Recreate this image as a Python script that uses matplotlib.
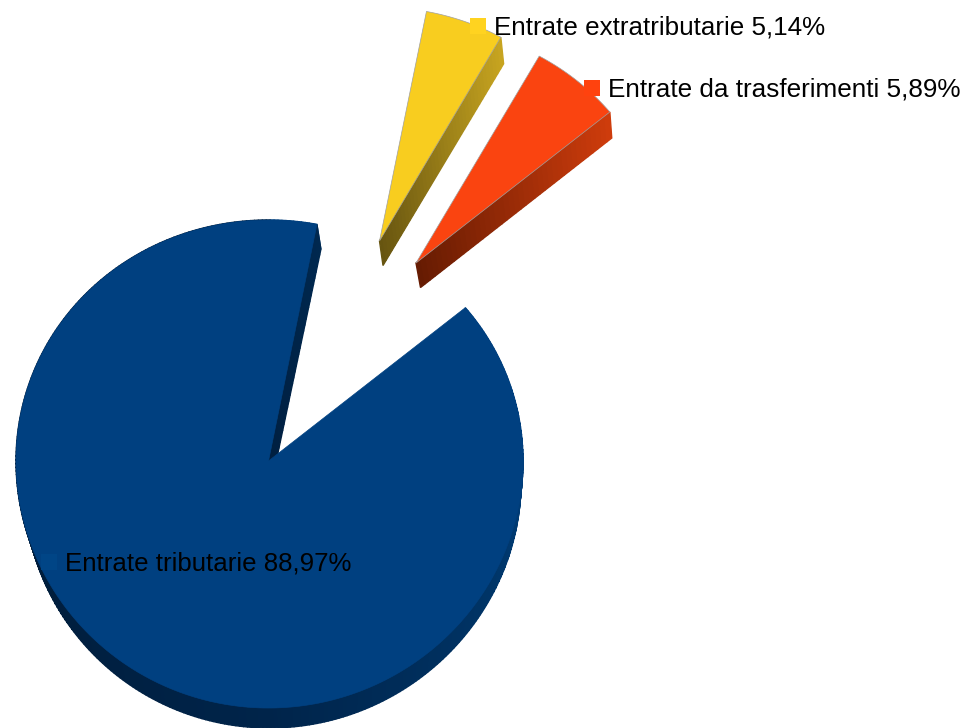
import numpy as np
import matplotlib
matplotlib.use("Agg")
import matplotlib.pyplot as plt
from matplotlib.colors import to_rgb

labels = ["Entrate tributarie 88,97%", "Entrate da trasferimenti 5,89%", "Entrate extratributarie 5,14%"]
shares = [88.97, 5.89, 5.14]
top_colors = ["#004080", "#fa4410", "#f8cd1f"]
key_colors = ["#004586", "#ff420e", "#ffd320"]

START = 79.0
RX, RY, BULGE, BULGE_X = 253.5, 244.0, 3.0, 1.0
apexes = [(268.5, 461), (416, 263), (379.5, 241)]
scales = [1.0, 0.985, 0.97]
# side face colours, dark end then light end
face_colors = [("#001f40", "#00284f"), ("#651b02", "#cf3c0c"), ("#665410", "#c8a520")]
extra_depth = [(0, 0), (1.5, 2), (0.5, 2)]
key_pos = [(41, 554), (584, 80), (470, 18)]
text_pos = [(65, 563), (608, 89), (494, 27)]
text_sizes = [18.65, 18.8, 18.7]
edge_widths = [0, 0.5, 0.5]


def top_xy(apex, scale, theta):
    t = np.radians(theta)
    s, c = np.sin(t), np.cos(t)
    return apex[0] + scale * (RX * c + BULGE_X * c * c), apex[1] - scale * (RY * s - BULGE * s * s)


def drop(x, y, apex, more=(0, 0)):
    # depth of the pie, a bit of perspective in it
    u = (x - apex[0]) / RX
    v = (apex[1] - y) / RY
    return x + 3 - 5 * u + 2 * v + more[0], y + 22.5 + 2.5 * v + more[1]


def strip(ax, p0, p1, q0, q1, color):
    ax.fill([p0[0], p1[0], q1[0], q0[0]], [p0[1], p1[1], q1[1], q0[1]],
            facecolor=color, edgecolor=color, lw=1.0, zorder=2)


def mix(c0, c1, f):
    return tuple((1 - f) * np.array(to_rgb(c0)) + f * np.array(to_rgb(c1)))


def radial_face(ax, apex, scale, theta, dark, light, more, n=40):
    xo, yo = top_xy(apex, scale, theta)
    for i in range(n):
        f0, f1 = i / n, (i + 1) / n
        p0 = (apex[0] + f0 * (xo - apex[0]), apex[1] + f0 * (yo - apex[1]))
        p1 = (apex[0] + f1 * (xo - apex[0]), apex[1] + f1 * (yo - apex[1]))
        strip(ax, p0, p1, drop(*p0, apex, more), drop(*p1, apex, more), mix(dark, light, (f0 + f1) / 2))


def rim_color(theta):
    # darkest lower left, almost the top colour at the right
    a = theta % 360
    if a < 90:
        a += 360
    stops = [200, 270, 330, 365]
    cols = np.array([to_rgb(c) for c in ["#001d3b", "#00244a", "#003466", "#003f7c"]])
    return tuple(np.interp(a, stops, cols[:, k]) for k in range(3))


fig = plt.figure(figsize=(9.67, 7.28), dpi=100)
ax = fig.add_axes([0, 0, 1, 1])
ax.set_xlim(0, 967)
ax.set_ylim(728, 0)
ax.axis("off")

angles = START + np.cumsum([0] + [p * 3.6 for p in shares])
for i, lab in enumerate(labels):
    t0, t1 = angles[i], angles[i + 1]
    apex, sc = apexes[i], scales[i]
    if i == 0:
        ths = np.linspace(t0, t1, 361)
        for a, b in zip(ths[:-1], ths[1:]):
            p0, p1 = top_xy(apex, sc, a), top_xy(apex, sc, b)
            strip(ax, p0, p1, drop(*p0, apex), drop(*p1, apex), rim_color((a + b) / 2))
    radial_face(ax, apex, sc, t0 % 360, *face_colors[i], extra_depth[i])
    ths = np.linspace(t0, t1, 300)
    xs, ys = top_xy(apex, sc, ths)
    ax.fill(np.r_[apex[0], xs], np.r_[apex[1], ys], facecolor=top_colors[i],
            edgecolor="#a0a0a0" if edge_widths[i] else top_colors[i], lw=edge_widths[i] or 0.5, zorder=3)

for i, lab in enumerate(labels):
    kx, ky = key_pos[i]
    ax.fill([kx, kx + 16, kx + 16, kx], [ky, ky, ky + 16, ky + 16], color=key_colors[i], lw=0, zorder=4)
    ax.text(text_pos[i][0], text_pos[i][1], lab, family="Liberation Sans", fontsize=text_sizes[i],
            color="black", va="center", ha="left", zorder=5)

fig.savefig("out.png", dpi=100)
